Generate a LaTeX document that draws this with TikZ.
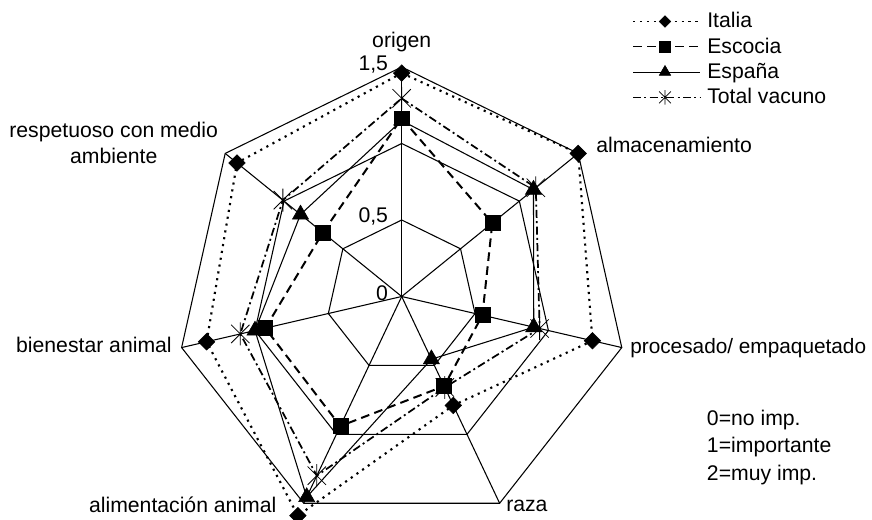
\documentclass[tikz,border=0pt]{standalone}
\usepackage{fontspec}
\setmainfont{Liberation Sans}
\usetikzlibrary{plotmarks}

% asterisk as in the chart: one upright stroke and a cross
\pgfdeclareplotmark{xstar}{%
  \pgfpathmoveto{\pgfqpoint{0pt}{\pgfplotmarksize}}%
  \pgfpathlineto{\pgfqpoint{0pt}{-\pgfplotmarksize}}%
  \pgfpathmoveto{\pgfqpoint{-.8\pgfplotmarksize}{.8\pgfplotmarksize}}%
  \pgfpathlineto{\pgfqpoint{.8\pgfplotmarksize}{-.8\pgfplotmarksize}}%
  \pgfpathmoveto{\pgfqpoint{-.8\pgfplotmarksize}{-.8\pgfplotmarksize}}%
  \pgfpathlineto{\pgfqpoint{.8\pgfplotmarksize}{.8\pgfplotmarksize}}%
  \pgfusepathqstroke}

\begin{document}
\begin{tikzpicture}[x=0.75pt,y=0.75pt,yscale=-1,xscale=1,
  grid/.style={line width=0.8pt},
  italia/.style={line width=1.6pt, dash pattern=on 1.6pt off 3.6pt},
  escocia/.style={line width=1.5pt, dash pattern=on 6.5pt off 4pt},
  espana/.style={line width=0.8pt},
  total/.style={line width=1.3pt, dash pattern=on 6pt off 2.5pt on 1.5pt off 2.5pt},
  itmark/.style={mark=square*, mark size=#1, mark options={solid, fill=black, rotate=45}},
  itmark/.default=4.4pt,
  esmark/.style={mark=square*, mark size=#1, mark options={solid, fill=black}},
  esmark/.default=5.6pt,
  epmark/.style={mark=triangle*, mark size=#1, mark options={solid, fill=black, rotate=180}},
  epmark/.default=7pt,
  tvmark/.style={mark=xstar, mark size=#1, mark options={solid, line width=0.6pt}},
  tvmark/.default=8.6pt,
  lbl/.style={inner sep=0pt, font=\fontsize{15.9}{19}\selectfont}]
\useasboundingbox (0,0) rectangle (872,520);
\def\cx{401.7} \def\cy{296.5} \def\rx{150.5} \def\ry{153}

% grid
\coordinate (o) at (\cx,\cy);
\foreach \k in {0,...,6}
  \foreach \r/\n in {0.5/a,1/b,1.5/c}
    \coordinate (g\n\k) at ({\cx+\rx*\r*cos(90-\k*360/7)},{\cy-\ry*\r*sin(90-\k*360/7)});
\foreach \n in {a,b,c}
  \draw[grid] (g\n0) -- (g\n1) -- (g\n2) -- (g\n3) -- (g\n4) -- (g\n5) -- (g\n6) -- cycle;
\foreach \k in {0,...,6}
  \draw[grid] (o) -- (gc\k);

% data points
\foreach \s/\vals in {it/{1.46,1.5,1.3,0.79,1.59,1.33,1.4},
                      es/{1.165,0.77,0.55,0.65,0.94,0.93,0.67},
                      ep/{1.15,1.12,0.9,0.455,1.455,1.0,0.86},
                      tv/{1.295,1.14,0.94,0.66,1.3,1.1,1.01}}
  \foreach \v [count=\k from 0] in \vals
    \coordinate (\s\k) at ({\cx+\rx*\v*cos(90-\k*360/7)},{\cy-\ry*\v*sin(90-\k*360/7)});

% series lines
\draw[italia] (it0) -- (it1) -- (it2) -- (it3) -- (it4) -- (it5) -- (it6) -- cycle;
\draw[escocia] (es0) -- (es1) -- (es2) -- (es3) -- (es4) -- (es5) -- (es6) -- cycle;
\draw[espana] (ep0) -- (ep1) -- (ep2) -- (ep3) -- (ep4) -- (ep5) -- (ep6) -- cycle;
\draw[total] (tv0) -- (tv1) -- (tv2) -- (tv3) -- (tv4) -- (tv5) -- (tv6) -- cycle;

% series marks
\path[epmark] plot[only marks] coordinates {(ep0) (ep1) (ep2) (ep3) (ep4) (ep5) (ep6)};
\path[tvmark] plot[only marks] coordinates {(tv0) (tv1) (tv2) (tv3) (tv4) (tv5) (tv6)};
\path[esmark] plot[only marks] coordinates {(es0) (es1) (es2) (es3) (es4) (es5) (es6)};
\path[itmark] plot[only marks] coordinates {(it0) (it1) (it2) (it3) (it4) (it5) (it6)};

% scale values
\node[lbl, anchor=base east] (v15) at (388.3,71) {1,5};
\node[lbl, anchor=base east] (v05) at (388.3,222.5) {0,5};
\node[lbl, anchor=base east] (v0) at (388.3,300.5) {0};

% axis labels
\node[lbl, anchor=base] (origen) at (401.7,47.5) {origen};
\node[lbl, anchor=base west] (almac) at (596,153) {almacenamiento};
\node[lbl, anchor=base west, font=\fontsize{15.6}{19}\selectfont] (proces) at (630,353.3) {procesado/ empaquetado};
\node[lbl, anchor=base west] (raza) at (506,511.7) {raza};
\node[lbl, anchor=base east] (aliment) at (276.7,512.7) {alimentación animal};
\node[lbl, anchor=base east] (bienest) at (172,353) {bienestar animal};
\node[lbl, anchor=base] (respet) at (113.7,138) {respetuoso con medio};
\node[lbl, anchor=base] (ambient) at (113.7,163.5) {ambiente};

% legend
\coordinate (la0) at (633,21.5); \coordinate (lb0) at (700,21.5); \coordinate (lm0) at (665,21.5);
\coordinate (la1) at (633,46.8); \coordinate (lb1) at (700,46.8); \coordinate (lm1) at (665,46.8);
\coordinate (la2) at (633,72.1); \coordinate (lb2) at (700,72.1); \coordinate (lm2) at (665,72.1);
\coordinate (la3) at (633,97.4); \coordinate (lb3) at (700,97.4); \coordinate (lm3) at (665,97.4);
\draw[italia, line width=1pt] (la0) -- (lb0);
\draw[escocia, line width=1pt] (la1) -- (lb1);
\draw[espana] (la2) -- (lb2);
\draw[total, line width=1pt] (la3) -- (lb3);
\path[itmark=3.1pt] plot[only marks] coordinates {(lm0)};
\path[esmark=4pt] plot[only marks] coordinates {(lm1)};
\path[epmark=5pt] plot[only marks] coordinates {(lm2)};
\path[tvmark=5.5pt] plot[only marks] coordinates {(lm3)};
\node[lbl, anchor=base west] (lit) at (707,28) {Italia};
\node[lbl, anchor=base west] (les) at (707,53.3) {Escocia};
\node[lbl, anchor=base west] (lep) at (707,78.6) {España};
\node[lbl, anchor=base west] (ltv) at (707,103.9) {Total vacuno};

% key
\node[lbl, anchor=base west] (k0) at (706.7,426) {0=no imp.};
\node[lbl, anchor=base west] (k1) at (706.7,452.3) {1=importante};
\node[lbl, anchor=base west] (k2) at (706.7,480) {2=muy imp.};

\end{tikzpicture}
\end{document}
